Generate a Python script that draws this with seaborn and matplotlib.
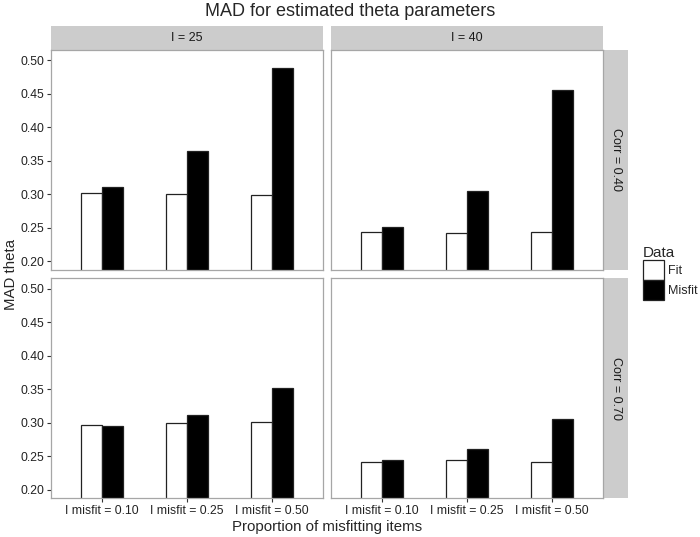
import numpy as np
import pandas as pd
import matplotlib
matplotlib.use('Agg')
import matplotlib.pyplot as plt
import seaborn as sns
from matplotlib.patches import Rectangle, Patch

# values
misfit_levels = ['I misfit = 0.10', 'I misfit = 0.25', 'I misfit = 0.50']
test_lengths = ['I = 25', 'I = 40']
corr_levels = ['Corr = 0.40', 'Corr = 0.70']

fit_25_040 = [0.301, 0.300, 0.298]
misfit_25_040 = [0.310, 0.365, 0.488]
fit_40_040 = [0.244, 0.242, 0.244]
misfit_40_040 = [0.251, 0.305, 0.455]
fit_25_070 = [0.296, 0.299, 0.301]
misfit_25_070 = [0.295, 0.312, 0.351]
fit_40_070 = [0.242, 0.245, 0.242]
misfit_40_070 = [0.244, 0.261, 0.306]

rows = []
series = {
    ('I = 25', 'Corr = 0.40'): (fit_25_040, misfit_25_040),
    ('I = 40', 'Corr = 0.40'): (fit_40_040, misfit_40_040),
    ('I = 25', 'Corr = 0.70'): (fit_25_070, misfit_25_070),
    ('I = 40', 'Corr = 0.70'): (fit_40_070, misfit_40_070),
}
for (il, cl), (fv, mv) in series.items():
    for lev, f, m in zip(misfit_levels, fv, mv):
        rows.append(dict(I=il, Corr=cl, Prop=lev, Data='Fit', MAD=f))
        rows.append(dict(I=il, Corr=cl, Prop=lev, Data='Misfit', MAD=m))
df = pd.DataFrame(rows)

sns.set_style('white')
plt.rcParams['font.family'] = ['Liberation Sans', 'DejaVu Sans']

fig, axes = plt.subplots(2, 2, figsize=(7, 5.37), dpi=100, sharex=True, sharey=True)
fig.subplots_adjust(left=51/700, right=603/700, top=1-50/537, bottom=1-498/537,
                    wspace=0.029, hspace=0.041)

pal = {'Fit': 'white', 'Misfit': 'black'}
tick_col = '#333333'
for r, cl in enumerate(corr_levels):
    for c, il in enumerate(test_lengths):
        ax = axes[r, c]
        sub = df[(df.I == il) & (df.Corr == cl)]
        sns.barplot(data=sub, x='Prop', y='MAD', hue='Data', order=misfit_levels,
                    hue_order=['Fit', 'Misfit'], palette=pal, width=0.5,
                    edgecolor='#222222', linewidth=0.9, legend=False, ax=ax)
        ax.set_xlim(-0.6, 2.6)
        ax.set_ylim(0.1876, 0.515)
        ax.set_yticks([0.20, 0.25, 0.30, 0.35, 0.40, 0.45, 0.50])
        ax.set_xlabel('')
        ax.set_ylabel('')
        for s in ax.spines.values():
            s.set_color('#A6A6A6')
            s.set_linewidth(0.9)
        ax.tick_params(axis='both', length=3, width=0.8, color=tick_col,
                       labelsize=8.8, labelcolor='#222222', pad=2)
        ax.tick_params(axis='y', left=(c == 0), labelleft=(c == 0))
        ax.tick_params(axis='x', bottom=(r == 1), labelbottom=(r == 1))
        if c == 0:
            ax.set_yticklabels(['0.20', '0.25', '0.30', '0.35', '0.40', '0.45', '0.50'])
        # column strip
        if r == 0:
            ax.add_patch(Rectangle((0, 1.0), 1, 24/219.5, transform=ax.transAxes,
                                   facecolor='#CCCCCC', edgecolor='none', clip_on=False))
            ax.text(0.5, 1.0 + 12/219.5, il, transform=ax.transAxes, ha='center',
                    va='center', fontsize=9, color='#1A1A1A')
        # row strip
        if c == 1:
            ax.add_patch(Rectangle((1.0, 0), 25/272, 1, transform=ax.transAxes,
                                   facecolor='#CCCCCC', edgecolor='none', clip_on=False))
            ax.text(1.0 + 12.5/272, 0.5, cl, transform=ax.transAxes, ha='center',
                    va='center', rotation=-90, fontsize=9, color='#1A1A1A')

fig.text(0.5, 1 - 12/537, 'MAD for estimated theta parameters', ha='center',
         va='center', fontsize=13)
fig.text(327/700, 1 - 527/537, 'Proportion of misfitting items', ha='center',
         va='center', fontsize=10.8)
fig.text(11/700, 1 - 274/537, 'MAD theta', ha='center', va='center',
         rotation=90, fontsize=10.8)

handles = [Patch(facecolor='white', edgecolor='#222222', linewidth=0.9, label='Fit'),
           Patch(facecolor='black', edgecolor='#222222', linewidth=0.9, label='Misfit')]
fig.legend(handles=handles, title='Data', loc='center left',
           bbox_to_anchor=(643/700, 1 - 273/537), frameon=False, fontsize=9,
           title_fontsize=11, handlelength=1.7, handleheight=2.1,
           labelspacing=0.0, handletextpad=0.3, borderaxespad=0, borderpad=0)
leg = fig.legends[0]
leg._legend_box.align = 'left'

fig.savefig('out.png', dpi=100)
